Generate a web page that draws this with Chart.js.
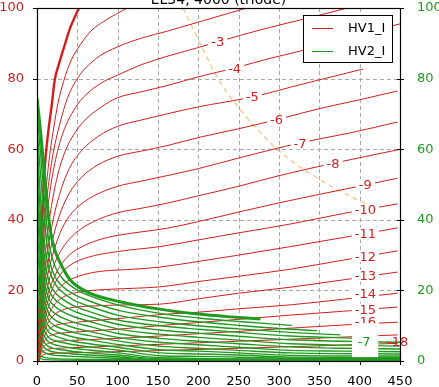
<!DOCTYPE html>
<html><head><meta charset="utf-8">
<script src="https://cdn.jsdelivr.net/npm/chart.js@4.4.1/dist/chart.umd.min.js"></script>
<style>html,body{margin:0;padding:0;background:#fff;overflow:hidden}canvas{display:block}</style>
</head><body>
<canvas id="c" width="439" height="387"></canvas>
<script>
// ---------- data ----------
const titleText = 'EL34, 4000 (triode)';
const xTickValues = [0,50,100,150,200,250,300,350,400,450];
const yTickValues = [0,20,40,60,80,100];

// HV1_I (red) curves, one per grid voltage: [x, y] pairs
const hv1_0  = [[1,0],[3,15],[4.5,30],[6,40],[10,56],[14.5,66],[18,72],[22,79.6],[27,84],[35,90],[41,94.3],[52,100]];
const hv1_1  = [[1,0],[3.5,15],[6,30],[9,42],[14,55],[20.7,66],[26,73],[33,79.2],[42,85],[53.7,89.6],[67,93.5],[82.7,96.2],[112,100]];
const hv1_2  = [[1.5,0],[4,15],[7,30],[11,43],[16,53],[21,60],[27,66],[37,74],[50,80],[74,85.8],[100,89],[130,91.5],[161,93.4],[200,96],[260,100]];
const hv1_3  = [[1.5,0],[4,13],[7,26],[11,38],[16,48],[23,57],[32,64.5],[50,72.6],[66,76.5],[83,79.2],[100,81],[130,84],[161,86.3],[200,88.8],[224,90.4],[280,94],[330,96.8],[385,100]];
const hv1_4  = [[2,0],[4.5,12],[8,24],[12,34],[18,44],[26,53],[36,60],[48,65],[62,68.8],[80,72],[99,74.5],[130,76.3],[161,78],[200,80.5],[245,83],[290,85.8],[330,88],[390,92],[450,95.5]];
const hv1_5  = [[2,0],[4.5,11],[8,21],[13,31],[20,40],[29,48],[40,54.5],[55,59.5],[75,63.5],[100,66.5],[130,68.3],[161,70],[200,72],[267,74.8],[330,78.5],[404,82.7]];
const hv1_6  = [[2,0],[4.5,10],[8,19],[13,27],[20,35],[29,42],[40,47.5],[55,52],[75,55.5],[100,58],[130,59.5],[161,61],[200,63.3],[250,65.8],[296,68.3],[350,71.5],[400,74],[447,76.5]];
const hv1_7  = [[2,0],[4.5,9],[8,17],[13,24],[20,30.5],[29,36.5],[40,41],[55,44.5],[75,47.3],[100,49.5],[130,51],[161,52.5],[200,54.5],[250,57.5],[326,61.8],[390,64.7],[447,67.7]];
const hv1_8  = [[2,0],[4.5,8],[8,15],[13,21],[20,26.5],[29,31],[40,34.5],[55,37.5],[75,40],[100,42],[130,43.3],[161,44.7],[200,46.8],[250,49.5],[300,52.5],[367,56],[447,59.8]];
const hv1_9  = [[2,0],[4.5,7],[8,13],[13,18.5],[20,23],[29,27],[40,30],[55,32.3],[75,34.2],[100,35.6],[130,36.6],[161,37.6],[200,39.5],[250,42.2],[300,44.8],[350,47.2],[408,49.9],[447,51.8]];
const hv1_10 = [[2,0],[4.5,6],[8,11.5],[13,16.5],[20,21],[29,24.5],[40,27],[62,29.3],[100,31],[152,32.4],[200,34.3],[250,36.3],[314,38.8],[380,41.8],[447,44.5]];
const hv1_11 = [[2,0],[4.5,5],[8,10],[13,14.5],[20,18.3],[29,21],[41,23],[62,24.7],[83,25.5],[120,26],[152,26.6],[200,28.2],[250,30],[314,32.4],[380,35],[447,37.7]];
const hv1_12 = [[2,0],[4.5,4.5],[8,8.5],[13,12.3],[20,15.5],[30,17.8],[42,19],[54,19.6],[80,20.2],[120,20.6],[152,21],[200,22.5],[250,24],[314,26],[380,28.6],[447,31.2]];
const hv1_13 = [[2,0],[4.5,4],[8,7.5],[13,10.5],[20,12.8],[30,14.3],[45,15.2],[70,15.6],[110,15.9],[152,16.1],[200,17.6],[250,19.2],[314,20.9],[380,23],[447,25.2]];
const hv1_14 = [[2,0],[4.5,3.5],[8,6.3],[13,8.5],[20,9.8],[30,10.5],[50,11],[100,12],[161,13.3],[193,13.7],[250,14.8],[314,15.9],[380,17.5],[447,19.2]];
const hv1_15 = [[2,0],[4.5,3],[8,5.2],[13,6.7],[20,7.5],[35,8],[60,8.4],[100,9],[161,10.2],[250,11.8],[314,13],[380,14.1],[447,15.3]];
const hv1_16 = [[2,0],[4.5,2.4],[8,4],[13,4.9],[20,5.4],[40,5.8],[100,6.4],[161,7.2],[250,8.4],[314,9.3],[380,10.2],[447,11]];
const hv1_17 = [[2,0],[4.5,1.8],[8,2.8],[13,3.3],[25,3.6],[60,3.9],[161,4.8],[250,5.6],[350,6.5],[447,7.4]];
const hv1_18 = [[2,0],[4.5,1.2],[8,1.8],[15,2.1],[40,2.3],[161,3],[250,3.6],[350,4.3],[447,5]];
const hv1Curves = [hv1_0,hv1_1,hv1_2,hv1_3,hv1_4,hv1_5,hv1_6,hv1_7,hv1_8,hv1_9,hv1_10,hv1_11,hv1_12,hv1_13,hv1_14,hv1_15,hv1_16,hv1_17,hv1_18];

// HV2_I (green) curves
const hv2_0  = [[0,74.5],[4,66],[8,56],[12,46],[16.5,37],[22,31.5],[29,27.7],[41,23],[62,19.6],[103,16.8],[152,14.7],[200,13.3],[240,12.5],[277,11.9]];
const hv2_1  = [[0,70],[4,60],[8,49],[12,39],[16,32],[22,27],[30,23.8],[45,20.8],[65,18.5],[100,15.9],[152,13.5],[200,12.2],[250,11.2],[316,10.1]];
const hv2_2  = [[0,66],[4,54],[8,43],[12,34],[16,28],[22,24],[30,21.5],[45,19],[65,17],[100,14.4],[152,12.4],[200,11.1],[250,10.1],[300,9.2],[347,8.6]];
const hv2_3  = [[0,62],[3,51],[6,41],[10,32],[15,26],[22,22],[30,19.8],[45,17.3],[65,15.5],[100,13],[152,11.1],[200,10],[250,9.1],[314,8.1],[376,7.4]];
const hv2_4  = [[0,57],[3,46],[6,36],[10,28],[15,22.5],[22,19.5],[30,17.8],[45,15.7],[65,14],[100,11.6],[152,10],[200,9],[250,8.1],[314,7.1],[400,6.4]];
const hv2_5  = [[0,52],[3,41],[6,32],[10,24.5],[15,20],[22,17.5],[30,16],[45,14.2],[65,12.6],[100,10.4],[152,8.8],[200,7.9],[250,7],[314,6],[380,5.6],[450,5.3]];
const hv2_6  = [[0,47],[3,37],[6,28.5],[10,21.5],[15,17.5],[22,15.5],[30,14.2],[45,12.6],[65,11.2],[100,9.1],[152,7.6],[200,6.7],[250,5.9],[314,4.9],[380,4.5],[450,4.2]];
const hv2_7  = [[0,42],[3,33],[6,25],[10,19],[15,15.3],[22,13.5],[30,12.4],[45,11],[65,9.8],[100,7.8],[152,6.4],[200,5.6],[250,4.9],[314,4],[380,3.6],[450,3.4]];
const hv2_8  = [[0,37],[3,29],[6,22],[10,16.5],[15,13.3],[22,11.7],[30,10.7],[45,9.5],[65,8.4],[100,6.7],[152,5.3],[200,4.6],[250,3.9],[314,3],[380,2.8],[450,2.6]];
const hv2_9  = [[0,32],[3,25],[6,19],[10,14.2],[15,11.4],[22,10],[30,9.2],[45,8.1],[65,7.2],[100,5.7],[152,4.2],[200,3.6],[250,3],[314,2.3],[450,2]];
const hv2_10 = [[0,27],[3,21],[6,16],[10,12],[15,9.7],[22,8.5],[30,7.8],[45,6.8],[65,6],[100,4.7],[152,3.2],[200,2.8],[250,2.3],[314,1.6],[450,1.4]];
const hv2_11 = [[0,23],[3,18],[6,13.5],[10,10],[15,8.1],[22,7.1],[30,6.5],[45,5.6],[65,4.9],[100,3.9],[152,2.3],[200,2],[250,1.7],[314,1.1],[450,1]];
const hv2_12 = [[0,19],[3,14.5],[6,11],[10,8.2],[15,6.6],[22,5.8],[30,5.3],[45,4.6],[65,4],[100,3.1],[152,1.5],[200,1.3],[314,0.8],[450,0.7]];
const hv2_13 = [[0,15],[3,11.5],[6,8.8],[10,6.6],[15,5.3],[22,4.6],[30,4.2],[45,3.6],[65,3.1],[100,2.3],[152,0.9],[314,0.5],[450,0.5]];
const hv2_14 = [[0,11],[3,8.5],[6,6.6],[10,5],[15,4],[22,3.5],[30,3.2],[45,2.7],[65,2.3],[100,1.7],[152,0.6],[450,0.35]];
const hv2_15 = [[0,8],[3,6.2],[6,4.8],[10,3.6],[15,2.9],[22,2.5],[30,2.3],[45,2],[65,1.7],[100,1.2],[152,0.4],[450,0.25]];
const hv2_16 = [[0,5],[3,3.9],[6,3],[10,2.3],[15,1.9],[22,1.6],[30,1.5],[45,1.3],[65,1.1],[100,0.8],[152,0.3],[450,0.15]];
const hv2_17 = [[0,2.5],[5,1.4],[15,0.8],[50,0.5],[100,0.35],[450,0.1]];
const hv2_18 = [[0,1],[10,0.4],[100,0.15],[450,0.05]];
const hv2Curves = [hv2_0,hv2_1,hv2_2,hv2_3,hv2_4,hv2_5,hv2_6,hv2_7,hv2_8,hv2_9,hv2_10,hv2_11,hv2_12,hv2_13,hv2_14,hv2_15,hv2_16,hv2_17,hv2_18];

// max dissipation (dashed orange)
const pmaxCurve = [[181,100],[200,91],[227,79],[260,69],[300,59.5],[350,51.5],[390,46.5],[425,42.5]];

// inline contour labels (value, x, y)
const hv1LabelText = ['-3','-4','-5','-6','-7','-8','-9','-10','-11','-12','-13','-14','-15','-16'];
const hv1LabelX    = [224,245,267,297,326,367,407,407,407,407,407,407,407,407];
const hv1LabelY    = [90.4,82.9,74.9,68.3,61.7,55.8,49.9,42.8,36.1,29.7,24.1,19.0,14.6,11.2];
const hv1EdgeLabel = {text:'-18', x:447, y:5.5};
const hv2LabelText = ['-7'];
const hv2LabelX = [405.5];
const hv2LabelY = [5.4];
const hv2LabelGap = {x0:390.5, x1:423, y0:1.1, y1:10.7};

const legendNames = ['HV1_I','HV2_I'];

// ---------- styling ----------
const RED = '#d01e1e';
const GREEN = '#1f9a1f';
const FONT = '"DejaVu Sans", sans-serif';

const toXY = arr => arr.map(p => ({x:p[0], y:p[1]}));
const datasets = [];
hv2Curves.forEach((c,i) => datasets.push({
  label: i===0 ? legendNames[1] : '', data: toXY(c), yAxisID:'y',
  borderColor: GREEN, borderWidth: i===0 ? 3 : 1.4, pointRadius:0,
  cubicInterpolationMode:'monotone', fill:false, order:0
}));
hv1Curves.forEach((c,i) => datasets.push({
  label: i===0 ? legendNames[0] : '', data: toXY(c), yAxisID:'y',
  borderColor: RED, borderWidth: i===0 ? 2.4 : 1, pointRadius:0,
  cubicInterpolationMode:'monotone', fill:false, order:1
}));
datasets.push({label:'', data: toXY(pmaxCurve), yAxisID:'y', borderColor:'rgba(243,170,80,0.75)',
  borderWidth:1.2, borderDash:[5,4], pointRadius:0, cubicInterpolationMode:'monotone', order:2});

const overlay = {
  id:'overlay',
  beforeDatasetsDraw(chart){
    const {ctx, chartArea:a, scales:{x,y}} = chart;
    ctx.save();
    ctx.strokeStyle = '#a8a8a8'; ctx.lineWidth = 1; ctx.setLineDash([4,3]);
    xTickValues.forEach(v => {
      if (v===0 || v===450) return;
      const px = Math.round(x.getPixelForValue(v)) + 0.5;
      ctx.beginPath(); ctx.moveTo(px,a.top); ctx.lineTo(px,a.bottom); ctx.stroke();
    });
    yTickValues.forEach(v => {
      if (v===0 || v===100) return;
      const py = Math.round(y.getPixelForValue(v)) + 0.5;
      ctx.beginPath(); ctx.moveTo(a.left,py); ctx.lineTo(a.right,py); ctx.stroke();
    });
    ctx.restore();
  },
  afterDatasetsDraw(chart){
    const {ctx, chartArea:a, scales:{x,y}} = chart;
    ctx.save();
    ctx.font = '13px ' + FONT;
    ctx.textAlign = 'center'; ctx.textBaseline = 'middle';
    hv1LabelText.forEach((t,i) => {
      const px = x.getPixelForValue(hv1LabelX[i]), py = y.getPixelForValue(hv1LabelY[i]);
      const w = ctx.measureText(t).width;
      ctx.fillStyle = '#fff'; ctx.fillRect(px-w/2-3, py-6, w+6, 12);
      ctx.fillStyle = RED; ctx.fillText(t, px, py+1);
    });
    // green label gap
    const gx0 = x.getPixelForValue(hv2LabelGap.x0), gx1 = x.getPixelForValue(hv2LabelGap.x1);
    const gy0 = y.getPixelForValue(hv2LabelGap.y1), gy1 = y.getPixelForValue(hv2LabelGap.y0);
    ctx.fillStyle = '#fff'; ctx.fillRect(gx0, gy0, gx1-gx0, gy1-gy0);
    hv2LabelText.forEach((t,i) => {
      ctx.fillStyle = GREEN;
      ctx.fillText(t, x.getPixelForValue(hv2LabelX[i]), y.getPixelForValue(hv2LabelY[i])+1);
    });
    // frame
    ctx.strokeStyle = '#000'; ctx.lineWidth = 1.2; ctx.setLineDash([]);
    ctx.strokeRect(Math.round(a.left)+0.5, Math.round(a.top)+0.5, Math.round(a.right-a.left), Math.round(a.bottom-a.top));
    // ticks
    ctx.lineWidth = 1;
    yTickValues.forEach(v => {
      const py = Math.round(y.getPixelForValue(v))+0.5;
      ctx.beginPath(); ctx.moveTo(a.left-4, py); ctx.lineTo(a.left, py); ctx.stroke();
      ctx.beginPath(); ctx.moveTo(a.right-3, py); ctx.lineTo(a.right+4, py); ctx.stroke();
    });
    xTickValues.forEach(v => {
      const px = Math.round(x.getPixelForValue(v))+0.5;
      ctx.beginPath(); ctx.moveTo(px, a.bottom); ctx.lineTo(px, a.bottom+4); ctx.stroke();
    });
    // edge label (drawn over frame)
    ctx.fillStyle = RED;
    ctx.fillText(hv1EdgeLabel.text, x.getPixelForValue(hv1EdgeLabel.x), y.getPixelForValue(hv1EdgeLabel.y)+1);
    // legend
    const lw = 89, lh = 47;
    const lx = a.right - 8 - lw, ly = a.top + 7;
    ctx.fillStyle = '#fff'; ctx.fillRect(lx, ly, lw, lh);
    ctx.strokeStyle = '#000'; ctx.lineWidth = 1;
    ctx.strokeRect(Math.round(lx)+0.5, Math.round(ly)+0.5, lw, lh);
    ctx.textAlign = 'left'; ctx.font = '13px ' + FONT;
    [[RED, legendNames[0], 12.5], [GREEN, legendNames[1], 35.5]].forEach(([col, name, dy]) => {
      ctx.strokeStyle = col; ctx.lineWidth = 1;
      ctx.beginPath(); ctx.moveTo(lx+9, Math.round(ly+dy)+0.5); ctx.lineTo(lx+30, Math.round(ly+dy)+0.5); ctx.stroke();
      ctx.fillStyle = '#000'; ctx.fillText(name, lx+45, ly+dy+1);
    });
    ctx.restore();
  },
  afterDraw(chart){
    const {ctx, chartArea:a} = chart;
    ctx.save();
    ctx.font = '14px ' + FONT; ctx.fillStyle = '#000';
    ctx.textAlign = 'center'; ctx.textBaseline = 'alphabetic';
    ctx.fillText(titleText, (a.left+a.right)/2, 4);
    ctx.restore();
  }
};

new Chart(document.getElementById('c'), {
  type:'line',
  data:{datasets},
  options:{
    responsive:false, animation:false, devicePixelRatio:1,
    layout:{padding:{top:8, left:0, right:0, bottom:0}},
    plugins:{legend:{display:false}, tooltip:{enabled:false}, title:{display:false}},
    scales:{
      x:{type:'linear', min:0, max:450, grid:{display:false}, border:{display:false},
         ticks:{stepSize:50, color:'#000', font:{family:FONT, size:13}, padding:5, maxRotation:0, autoSkip:false},
         afterFit(s){ s.height = 26; s.paddingLeft = 0; s.paddingRight = 0; }},
      y:{type:'linear', position:'left', min:0, max:100, grid:{display:false}, border:{display:false},
         ticks:{stepSize:20, color:RED, font:{family:FONT, size:13}, padding:5},
         afterFit(s){ s.width = 37; s.paddingTop = 0; s.paddingBottom = 0; }},
      y2:{type:'linear', position:'right', min:0, max:100, grid:{display:false}, border:{display:false},
         ticks:{stepSize:20, color:GREEN, font:{family:FONT, size:13}, padding:9},
         afterFit(s){ s.width = 39; s.paddingTop = 0; s.paddingBottom = 0; }}
    }
  },
  plugins:[overlay]
});
</script>
</body></html>
